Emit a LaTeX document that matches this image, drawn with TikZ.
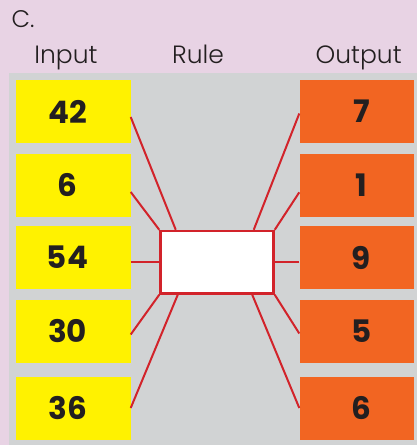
\documentclass[tikz,border=0pt]{standalone}
\usepackage{fontspec}
\setmainfont{Poppins}[UprightFont=* Light]
\newfontfamily\numfont{Poppins}[UprightFont=* Bold]
\usetikzlibrary{calc}
\definecolor{bgpink}{HTML}{E8D3E4}
\definecolor{panelgray}{HTML}{D1D3D4}
\definecolor{inyellow}{HTML}{FFF200}
\definecolor{outorange}{HTML}{F26522}
\definecolor{linered}{HTML}{D2232A}
\definecolor{txt}{HTML}{231F20}
\tikzset{
  inbox/.style={fill=inyellow, minimum width=114.5pt, minimum height=63pt, inner sep=0pt},
  outbox/.style={fill=outorange, minimum width=114.5pt, minimum height=63pt, inner sep=0pt},
  numtext/.style={font=\numfont\fontsize{31}{31}\selectfont, text=txt},
  lbl/.style={font=\fontsize{25}{25}\selectfont, text=txt, anchor=base, inner sep=0pt},
  wire/.style={draw=linered, line width=2pt},
  rulebox/.style={draw=linered, fill=white, line width=2.5pt, minimum width=113pt, minimum height=62.5pt, inner sep=0pt}
}
\begin{document}
\begin{tikzpicture}[x=1pt,y=-1pt]
\useasboundingbox (0,0) rectangle (417,445);
\fill[bgpink] (0,0) rectangle (417,445);
\fill[panelgray] (9,73) rectangle (417,445);
\node[lbl, anchor=base west, font=\fontsize{24}{24}\selectfont] (c) at (11.5,27) {C.};
\node[lbl] (lin) at (66,63.3) {Input};
\node[lbl] (lrule) at (198,63.3) {Rule};
\node[lbl] (lout) at (358.7,63.3) {Output};
% input boxes
\node[inbox] (y1) at (73.25,111.5) {};
\node[inbox] (y2) at (73.25,185) {};
\node[inbox] (y3) at (73.25,257.5) {};
\node[inbox] (y4) at (73.25,331.5) {};
\node[inbox] (y5) at (73.25,408) {};
\node[numtext] (t1) at (67.5,111.5) {42};
\node[numtext] (t2) at (67.5,185) {6};
\node[numtext] (t3) at (67.5,257.5) {54};
\node[numtext] (t4) at (67.5,331.5) {30};
\node[numtext] (t5) at (67.5,408) {36};
% output boxes
\node[outbox] (o1) at (356.75,111.5) {};
\node[outbox] (o2) at (356.75,185) {};
\node[outbox] (o3) at (356.75,257.5) {};
\node[outbox] (o4) at (356.75,331.5) {};
\node[outbox] (o5) at (356.75,408) {};
\node[numtext] (u1) at (361.5,111.5) {7};
\node[numtext] (u2) at (361.5,185) {1};
\node[numtext] (u3) at (361.5,257.5) {9};
\node[numtext] (u4) at (361.5,331.5) {5};
\node[numtext] (u5) at (361.5,408) {6};
% rule box
\node[rulebox] (r) at (217,262.25) {};
% wires left
\draw[wire] ([yshift=-5.5pt]y1.east) -- ([xshift=16.5pt]r.north west);
\draw[wire] ([yshift=-7pt]y2.east) -- (r.north west);
\draw[wire] (y3.east |- r.west) -- (r.west);
\draw[wire] ([yshift=-3pt]y4.east) -- (r.south west);
\draw[wire] (y5.east) -- ([xshift=18.5pt]r.south west);
% wires right
\draw[wire] ([yshift=-2pt]o1.west) -- ([xshift=-21pt]r.north east);
\draw[wire] ([yshift=-7.3pt]o2.west) -- (r.north east);
\draw[wire] (o3.west |- r.east) -- (r.east);
\draw[wire] ([yshift=-2pt]o4.west) -- (r.south east);
\draw[wire] (o5.west) -- ([xshift=-22.5pt]r.south east);
\node[rulebox] (r2) at (r) {};
\end{tikzpicture}
\end{document}
